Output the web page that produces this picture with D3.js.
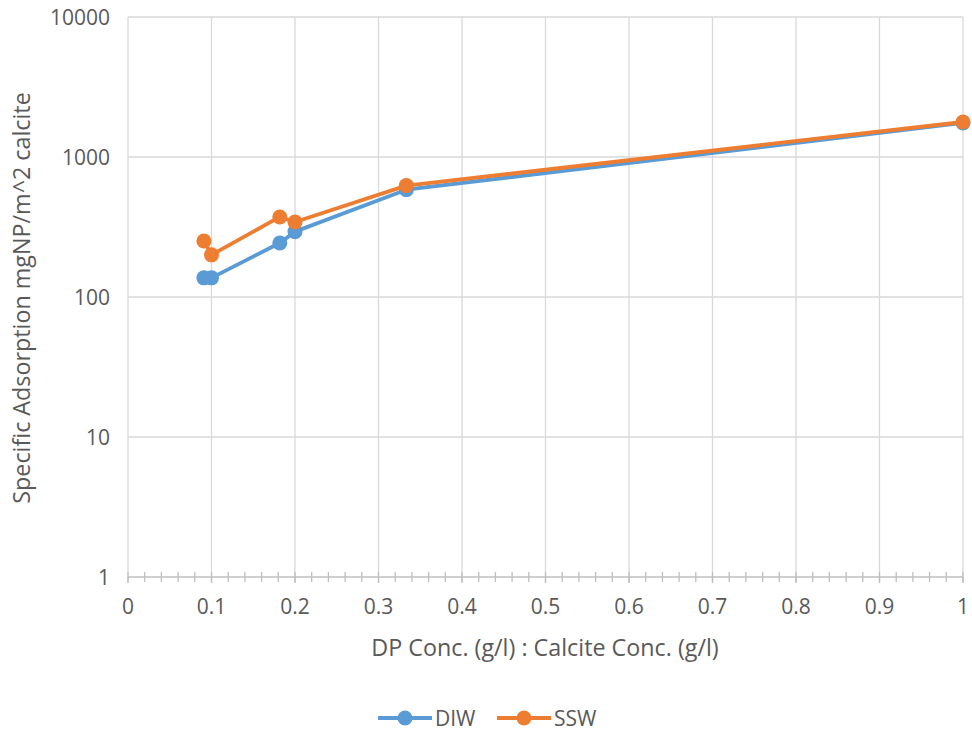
<!DOCTYPE html>
<html>
<head>
<meta charset="utf-8">
<script src="https://cdn.jsdelivr.net/npm/d3@7"></script>
<style>
  body { margin: 0; background: #fff; }
  text { font-family: "Open Sans", "Noto Sans", sans-serif; fill: #595959; }
</style>
</head>
<body>
<div id="chart"></div>
<script>
// values
const ratios = [0.0909, 0.1, 0.1818, 0.2, 0.3333, 1];
const diw = [137, 137, 243, 293, 584, 1750];
const ssw = [251, 200, 373, 343, 625, 1778];
const xTicks = [0, 0.1, 0.2, 0.3, 0.4, 0.5, 0.6, 0.7, 0.8, 0.9, 1];
const yTicks = [1, 10, 100, 1000, 10000];

const series = [
    { name: "DIW", values: diw, color: "#5B9BD5" },
    { name: "SSW", values: ssw, color: "#ED7D31" }
];

const WIDTH = 972;
const HEIGHT = 733;
const PLOT_LEFT = 128, PLOT_RIGHT = 963, PLOT_TOP = 17, PLOT_BOTTOM = 577;

const svg = d3.select("#chart")
    .append("svg")
    .attr("width", WIDTH)
    .attr("height", HEIGHT);

const x = d3.scaleLinear().domain([0, 1]).range([PLOT_LEFT, PLOT_RIGHT]);
const y = d3.scaleLog().domain([1, 10000]).range([PLOT_BOTTOM, PLOT_TOP]);

// gridlines
svg.append("g")
    .selectAll("line")
    .data(xTicks)
    .enter()
    .append("line")
    .attr("x1", d => x(d)).attr("x2", d => x(d))
    .attr("y1", PLOT_TOP).attr("y2", PLOT_BOTTOM)
    .attr("stroke", "#d9d9d9").attr("stroke-width", 1.3);

svg.append("g")
    .selectAll("line")
    .data(yTicks.slice(1))
    .enter()
    .append("line")
    .attr("x1", PLOT_LEFT).attr("x2", PLOT_RIGHT)
    .attr("y1", d => y(d)).attr("y2", d => y(d))
    .attr("stroke", "#d9d9d9").attr("stroke-width", 1.3);

// x axis with minor ticks crossing
const xAxis = svg.append("g").attr("transform", `translate(0,${PLOT_BOTTOM})`);
xAxis.append("line")
    .attr("x1", PLOT_LEFT).attr("x2", PLOT_RIGHT)
    .attr("stroke", "#bfbfbf").attr("stroke-width", 1.3);
xAxis.selectAll(".minor")
    .data(d3.range(0, 51).map(i => i / 50))
    .enter()
    .append("line")
    .attr("x1", d => x(d)).attr("x2", d => x(d))
    .attr("y1", -5).attr("y2", 5)
    .attr("stroke", "#bfbfbf").attr("stroke-width", 1.3);
xAxis.selectAll(".major")
    .data(xTicks)
    .enter()
    .append("line")
    .attr("x1", d => x(d)).attr("x2", d => x(d))
    .attr("y1", 0).attr("y2", 6)
    .attr("stroke", "#bfbfbf").attr("stroke-width", 1.3);
xAxis.selectAll("text")
    .data(xTicks)
    .enter()
    .append("text")
    .attr("x", d => x(d))
    .attr("y", 37)
    .attr("text-anchor", "middle")
    .attr("font-size", 21)
    .text(d => d3.format("")(d));

// y tick labels
svg.append("g")
    .selectAll("text")
    .data(yTicks)
    .enter()
    .append("text")
    .attr("x", 110)
    .attr("y", d => y(d) + 8)
    .attr("text-anchor", "end")
    .attr("font-size", 21)
    .text(d => d);

// axis titles
svg.append("text")
    .attr("x", 545)
    .attr("y", 656)
    .attr("text-anchor", "middle")
    .attr("font-size", 23.3)
    .text("DP Conc. (g/l) : Calcite Conc. (g/l)");

svg.append("text")
    .attr("transform", `translate(30,298) rotate(-90)`)
    .attr("text-anchor", "middle")
    .attr("font-size", 23.3)
    .text("Specific Adsorption mgNP/m^2 calcite");

// lines and markers
const line = d3.line()
    .x((d, i) => x(ratios[i]))
    .y(d => y(d));

series.forEach(s => {
    svg.append("path")
        .datum(s.values)
        .attr("d", line)
        .attr("fill", "none")
        .attr("stroke", s.color)
        .attr("stroke-width", 3.8)
        .attr("stroke-linejoin", "round");
    svg.append("g")
        .selectAll("circle")
        .data(s.values)
        .enter()
        .append("circle")
        .attr("cx", (d, i) => x(ratios[i]))
        .attr("cy", d => y(d))
        .attr("r", 7.5)
        .attr("fill", s.color);
});

// legend
const legend = svg.append("g").attr("transform", "translate(378,718)");
series.forEach((s, i) => {
    const g = legend.append("g").attr("transform", `translate(${i * 119},0)`);
    g.append("line")
        .attr("x1", 0).attr("x2", 54)
        .attr("stroke", s.color).attr("stroke-width", 3.8);
    g.append("circle")
        .attr("cx", 27).attr("r", 7.5)
        .attr("fill", s.color);
    g.append("text")
        .attr("x", 57)
        .attr("y", 8)
        .attr("font-size", 21)
        .text(s.name);
});
</script>
</body>
</html>
